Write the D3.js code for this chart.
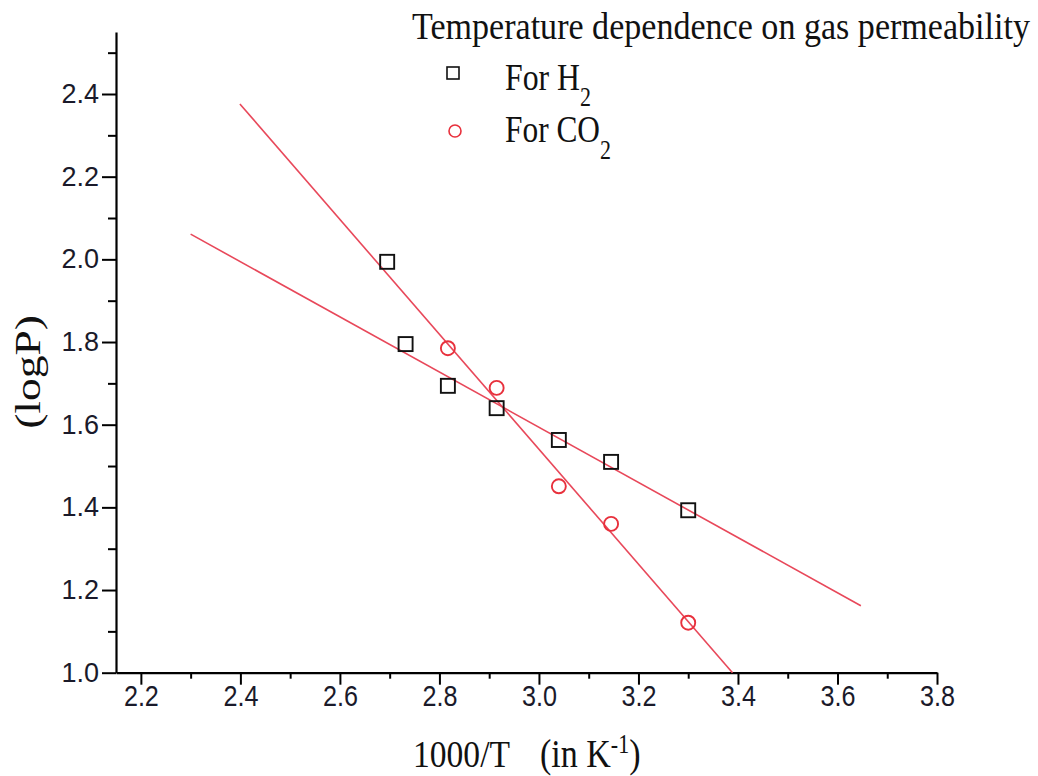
<!DOCTYPE html>
<html><head><meta charset="utf-8">
<script src="https://cdn.jsdelivr.net/npm/d3@7"></script>
<style>body{margin:0;background:#fff}</style>
</head><body>
<svg id="c" width="1038" height="776"></svg>
<script>
// Data
const h2X = [2.695, 2.732, 2.817, 2.915, 3.040, 3.145, 3.300];
const h2Y = [1.994, 1.795, 1.694, 1.640, 1.563, 1.510, 1.393];
const co2X = [2.817, 2.915, 3.040, 3.145, 3.300];
const co2Y = [1.785, 1.689, 1.451, 1.360, 1.121];
const h2FitX = [2.30, 3.647];
const h2FitY = [2.061, 1.162];
const co2FitX = [2.399, 3.389];
const co2FitY = [2.376, 1.000];
const xTicks = [2.2, 2.4, 2.6, 2.8, 3.0, 3.2, 3.4, 3.6, 3.8];
const yTicks = [1.0, 1.2, 1.4, 1.6, 1.8, 2.0, 2.2, 2.4];
const titleText = "Temperature dependence on gas permeability";
const legendLabels = ["For H", "For CO"];

const svg = d3.select("#c");
const x = d3.scaleLinear().domain([2.15, 3.8]).range([116, 937]);
const y = d3.scaleLinear().domain([1.0, 2.55]).range([672.7, 32]);

const red = "#e8485a";
const stretch = 1.2;

// Axes
const xAxis = d3.axisBottom(x).tickValues(xTicks).tickFormat(d3.format(".1f")).tickSize(12).tickSizeOuter(0);
const gx = svg.append("g").attr("transform", "translate(0,672.7)").call(xAxis);
const xMinor = d3.axisBottom(x).tickValues(d3.range(2.3, 3.8, 0.2)).tickFormat("").tickSize(6).tickSizeOuter(0);
svg.append("g").attr("transform", "translate(0,672.7)").call(xMinor).select(".domain").remove();

const yAxis = d3.axisLeft(y).tickValues(yTicks).tickFormat(d3.format(".1f")).tickSize(14).tickSizeOuter(0);
const gy = svg.append("g").attr("transform", "translate(116,0)").call(yAxis);
const yMinor = d3.axisLeft(y).tickValues(d3.range(1.1, 2.55, 0.2)).tickFormat("").tickSize(8).tickSizeOuter(0);
svg.append("g").attr("transform", "translate(116,0)").call(yMinor).select(".domain").remove();

svg.selectAll(".domain").attr("stroke", "#000").attr("stroke-width", 2.2);
svg.selectAll(".tick line").attr("stroke", "#000").attr("stroke-width", 2);
gx.selectAll(".tick text").attr("font-family", "Liberation Sans, Arial, sans-serif")
  .attr("font-size", 30).attr("fill", "#1a1a2a").attr("y", 33).attr("dy", 0)
  .attr("textLength", 35).attr("lengthAdjust", "spacingAndGlyphs");
gy.selectAll(".tick text").attr("font-family", "Liberation Sans, Arial, sans-serif")
  .attr("font-size", 27).attr("fill", "#1a1a2a").attr("x", -17);

// Fit lines
const line = d3.line().x(d => x(d[0])).y(d => y(d[1]));
svg.append("path").datum(d3.zip(h2FitX, h2FitY)).attr("d", line)
  .attr("fill", "none").attr("stroke", red).attr("stroke-width", 1.6);
svg.append("path").datum(d3.zip(co2FitX, co2FitY)).attr("d", line)
  .attr("fill", "none").attr("stroke", red).attr("stroke-width", 1.6);

// Markers
const sq = 14;
svg.append("g").selectAll("rect").data(d3.zip(h2X, h2Y)).join("rect")
  .attr("x", d => x(d[0]) - sq/2).attr("y", d => y(d[1]) - sq/2)
  .attr("width", sq).attr("height", sq)
  .attr("fill", "none").attr("stroke", "#111").attr("stroke-width", 1.9);
svg.append("g").selectAll("circle").data(d3.zip(co2X, co2Y)).join("circle")
  .attr("cx", d => x(d[0])).attr("cy", d => y(d[1])).attr("r", 7)
  .attr("fill", "none").attr("stroke", "#e8303c").attr("stroke-width", 1.9);

// Title / legend
const serif = "Liberation Serif, Times New Roman, serif";
function stretched(px, py) {
  return svg.append("g").attr("transform", `translate(${px},${py}) scale(1,${stretch})`);
}
stretched(412, 39).append("text").attr("font-family", serif)
  .attr("font-size", 32).attr("fill", "#111").attr("textLength", 618)
  .attr("lengthAdjust", "spacingAndGlyphs").text(titleText);

svg.append("rect").attr("x", 447).attr("y", 67).attr("width", 12).attr("height", 12)
  .attr("fill", "none").attr("stroke", "#111").attr("stroke-width", 1.6);
svg.append("circle").attr("cx", 455).attr("cy", 131).attr("r", 6)
  .attr("fill", "none").attr("stroke", "#e8303c").attr("stroke-width", 1.6);

const leg1 = stretched(505, 90).append("text").attr("font-family", serif)
  .attr("font-size", 31).attr("fill", "#111");
leg1.append("tspan").attr("textLength", 75).attr("lengthAdjust", "spacingAndGlyphs").text(legendLabels[0]);
leg1.append("tspan").attr("dy", 13).attr("font-size", 22).text("2");
const leg2 = stretched(505, 142).append("text").attr("font-family", serif)
  .attr("font-size", 31).attr("fill", "#111");
leg2.append("tspan").attr("textLength", 95).attr("lengthAdjust", "spacingAndGlyphs").text(legendLabels[1]);
leg2.append("tspan").attr("dy", 14).attr("font-size", 22).text("2");

// Axis titles
svg.append("g").attr("transform", "translate(40,372) rotate(-90)")
  .append("g").attr("transform", "scale(1.3,1)")
  .append("text").attr("text-anchor", "middle").attr("font-family", serif).attr("font-size", 35)
  .attr("fill", "#111").text("(logP)");
const xg = stretched(413, 767);
xg.append("text").attr("font-family", serif).attr("font-size", 31).attr("fill", "#111")
  .attr("textLength", 97).attr("lengthAdjust", "spacingAndGlyphs").text("1000/T");
const xt = xg.append("text").attr("x", 127).attr("font-family", serif)
  .attr("font-size", 34).attr("fill", "#111");
xt.append("tspan").text("(in K");
xt.append("tspan").attr("dy", -12).attr("font-size", 22).text("-1");
xt.append("tspan").attr("dy", 12).text(")");
</script>
</body></html>
